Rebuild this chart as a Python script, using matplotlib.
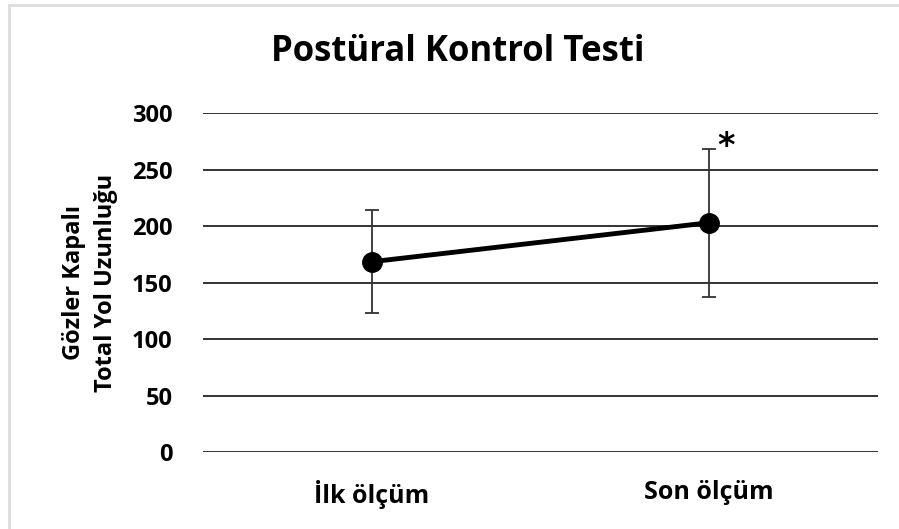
import matplotlib.pyplot as plt
from matplotlib.lines import Line2D

# datos
olcumler = ['İlk ölçüm', 'Son ölçüm']
ortalama = [168.5, 203]
sapma = [45.5, 65.5]
y_ticks = [0, 50, 100, 150, 200, 250, 300]

plt.rcParams['font.family'] = ['Open Sans', 'DejaVu Sans']
plt.rcParams['font.weight'] = 'bold'

fig = plt.figure(figsize=(8.99, 5.29), dpi=100)
ax = fig.add_axes([0.2258, 0.145, 0.7508, 0.6414])

x = list(range(len(olcumler)))
ax.errorbar(x, ortalama, yerr=sapma, fmt='none', ecolor='#333333',
            elinewidth=1.3, capsize=5, capthick=1.3, zorder=3)
ax.plot(x, ortalama, color='black', lw=3.5, marker='o', markersize=14, zorder=4)

ax.annotate('*', xy=(x[1], ortalama[1] + sapma[1]), xytext=(12, -10),
            textcoords='offset points', ha='center', va='bottom', fontsize=24,
            family='DejaVu Sans', fontweight='bold')

ax.set_xlim(-0.5, 1.5)
ax.set_ylim(0, 300)
ax.set_yticks(y_ticks)
ax.set_xticks(x)
ax.set_xticklabels(olcumler)
ax.tick_params(axis='y', length=0, pad=22, labelsize=17)
ax.tick_params(axis='x', length=0, pad=20, labelsize=18)
for t in y_ticks:
    ax.axhline(t, color='#333333', lw=1.4, zorder=1)
for s in ax.spines.values():
    s.set_visible(False)

fig.text(90 / 899, 1 - 283 / 529, 'Gözler Kapalı\nTotal Yol Uzunluğu',
         rotation=90, ha='center', va='center', fontsize=17, linespacing=1.45,
         fontweight='bold')
fig.text(458 / 899, 1 - 52 / 529, 'Postüral Kontrol Testi', ha='center',
         va='center', fontsize=25, fontweight='bold')

# marco gris claro de la captura
fig.add_artist(Line2D([0.01, 1.0], [0.99, 0.99], color='#dddddd', lw=2,
                      transform=fig.transFigure))
fig.add_artist(Line2D([0.01, 0.01], [0.0, 0.99], color='#dddddd', lw=2,
                      transform=fig.transFigure))

fig.savefig('out.png', dpi=100)
